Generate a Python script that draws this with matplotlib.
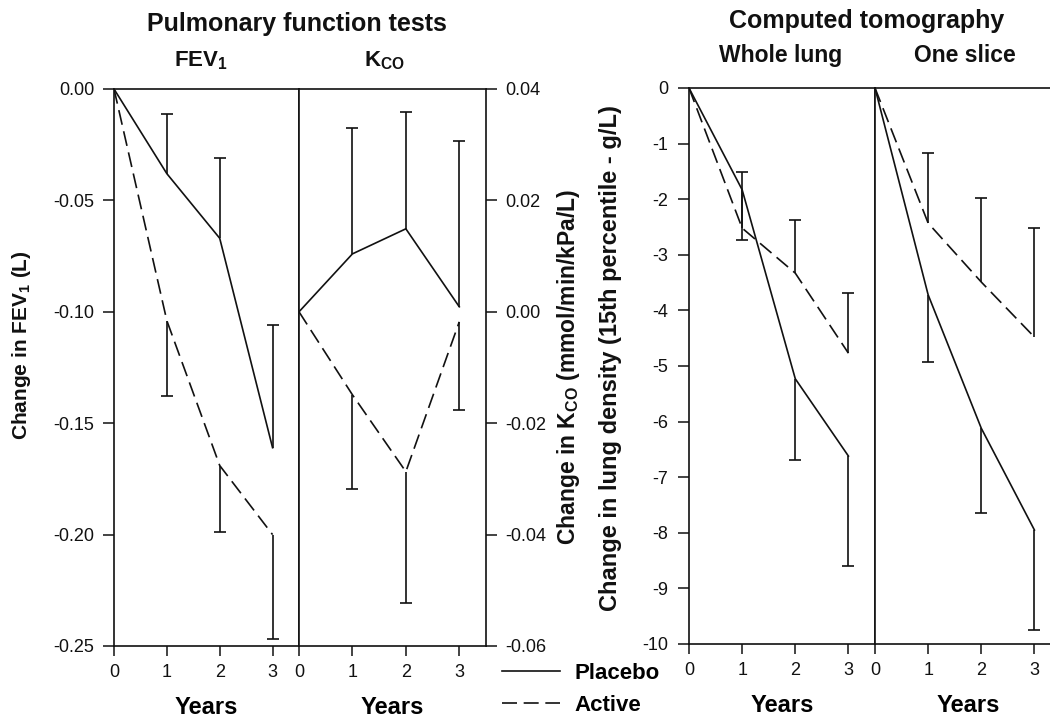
import matplotlib
matplotlib.use('Agg')
import matplotlib.pyplot as plt
from matplotlib.lines import Line2D

plt.rcParams['font.family'] = ['Liberation Sans', 'DejaVu Sans']
plt.rcParams['axes.unicode_minus'] = False
plt.rcParams['mathtext.fontset'] = 'custom'
plt.rcParams['mathtext.rm'] = 'Liberation Sans'
plt.rcParams['mathtext.bf'] = 'Liberation Sans:bold'

# data
years = [0, 1, 2, 3]

fev1_placebo = [0, -0.038, -0.067, -0.161]
fev1_placebo_err = [0.027, 0.036, 0.055]
fev1_active = [0, -0.104, -0.169, -0.200]
fev1_active_err = [0.034, 0.030, 0.047]

kco_placebo = [0, 0.0104, 0.0149, 0.0009]
kco_placebo_err = [0.0226, 0.0210, 0.0298]
kco_active = [0, -0.0149, -0.0287, -0.0018]
kco_active_err = [0.0169, 0.0236, 0.0158]

whole_placebo = [0, -1.83, -5.23, -6.62]
whole_placebo_err = [0.90, 1.46, 1.98]
whole_active = [0, -2.52, -3.33, -4.77]
whole_active_err = [1.01, 0.96, 1.08]

slice_placebo = [0, -3.72, -6.12, -7.95]
slice_placebo_err = [1.21, 1.52, 1.80]
slice_active = [0, -2.43, -3.49, -4.48]
slice_active_err = [1.26, 1.51, 1.96]

fev1_ticks = [0.00, -0.05, -0.10, -0.15, -0.20, -0.25]
kco_ticks = [0.04, 0.02, 0.00, -0.02, -0.04, -0.06]
ct_ticks = [0, -1, -2, -3, -4, -5, -6, -7, -8, -9, -10]

ink = '#111111'
W, H = 1050, 718

fig = plt.figure(figsize=(10.5, 7.18), dpi=100)


def rect(x0, x1, y0, y1):
    # pixel box -> figure fraction
    return [x0 / W, 1 - y1 / H, (x1 - x0) / W, (y1 - y0) / H]


def make_ax(r, ylim):
    ax = fig.add_axes(r)
    ax.set_xlim(0, 3.5)
    ax.set_ylim(*ylim)
    ax.set_xticks(years)
    for s in ax.spines.values():
        s.set_color(ink)
        s.set_linewidth(1.2)
    ax.tick_params(axis='x', direction='out', length=7, width=1.1,
                   labelsize=13, pad=6, colors=ink)
    ax.tick_params(axis='y', direction='out', length=8, width=1.1,
                   labelsize=13, pad=6, colors=ink)
    ax.set_xlabel('Years', fontsize=17, fontweight='bold', labelpad=11)
    return ax


def draw(ax, vals, err, sign, dashed):
    if dashed:
        ax.plot(years, vals, color=ink, lw=1.2, dashes=(9, 4))
    else:
        ax.plot(years, vals, color=ink, lw=1.2)
    x = years[1:]
    v = vals[1:]
    ends = [a + sign * e for a, e in zip(v, err)]
    ax.vlines(x, v, ends, color=ink, lw=1.2)
    ax.plot(x, ends, ls='none', marker='_', ms=9, mew=1.2, color=ink)


# pulmonary function tests
ax1 = make_ax(rect(114, 299, 89, 646), (-0.25, 0))
ax1.set_yticks(fev1_ticks)
ax1.set_yticklabels(['%.2f' % t for t in fev1_ticks])
draw(ax1, fev1_placebo, fev1_placebo_err, 1, False)
draw(ax1, fev1_active, fev1_active_err, -1, True)

ax2 = make_ax(rect(299, 486, 89, 646), (-0.06, 0.04))
ax2.yaxis.tick_right()
ax2.set_yticks(kco_ticks)
ax2.set_yticklabels(['%.2f' % t for t in kco_ticks])
draw(ax2, kco_placebo, kco_placebo_err, 1, False)
draw(ax2, kco_active, kco_active_err, -1, True)

# computed tomography
ax3 = make_ax(rect(689, 875, 88, 644), (-10, 0))
ax3.set_yticks(ct_ticks)
ax3.set_yticklabels([str(t) for t in ct_ticks])
ax3.tick_params(axis='y', pad=7)
draw(ax3, whole_placebo, whole_placebo_err, -1, False)
draw(ax3, whole_active, whole_active_err, 1, True)

ax4 = make_ax(rect(875, 1061, 88, 644), (-10, 0))
ax4.set_yticks([])
draw(ax4, slice_placebo, slice_placebo_err, -1, False)
draw(ax4, slice_active, slice_active_err, 1, True)

# titles
fig.text(297 / W, 1 - 31 / H, 'Pulmonary function tests', ha='center',
         va='baseline', fontsize=18, fontweight='bold', color=ink)
fig.text(867 / W, 1 - 28 / H, 'Computed tomography', ha='center',
         va='baseline', fontsize=18, fontweight='bold', color=ink)
fig.text(201 / W, 1 - 66 / H, r'FEV$_\mathbf{1}$', ha='center',
         va='baseline', fontsize=16, fontweight='bold', color=ink)
fig.text(384 / W, 1 - 66 / H, r'K$_\mathbf{CO}$', ha='center',
         va='baseline', fontsize=16, fontweight='bold', color=ink)
fig.text(781 / W, 1 - 62 / H, 'Whole lung', ha='center',
         va='baseline', fontsize=16.5, fontweight='bold', color=ink)
fig.text(965 / W, 1 - 62 / H, 'One slice', ha='center',
         va='baseline', fontsize=16.5, fontweight='bold', color=ink)

# y labels
fig.text(22 / W, 1 - 345 / H, r'Change in FEV$_\mathbf{1}$ (L)', rotation=90,
         ha='center', va='center', fontsize=15, fontweight='bold', color=ink)
fig.text(569 / W, 1 - 367 / H, r'Change in K$_\mathbf{CO}$ (mmol/min/kPa/L)',
         rotation=90, ha='center', va='center', fontsize=16.5,
         fontweight='bold', color=ink)
fig.text(610 / W, 1 - 358 / H, 'Change in lung density (15th percentile - g/L)',
         rotation=90, ha='center', va='center', fontsize=17,
         fontweight='bold', color=ink)

# legend
handles = [Line2D([], [], color=ink, lw=1.2),
           Line2D([], [], color=ink, lw=1.2, dashes=(9, 4))]
fig.legend(handles, ['Placebo', 'Active'], loc='upper left',
           bbox_to_anchor=(502 / W, 1 - 663 / H), frameon=False,
           borderpad=0, borderaxespad=0, handlelength=2.6,
           handletextpad=0.65, labelspacing=0.5,
           prop={'weight': 'bold', 'size': 16})

fig.savefig('out.png', dpi=100)
